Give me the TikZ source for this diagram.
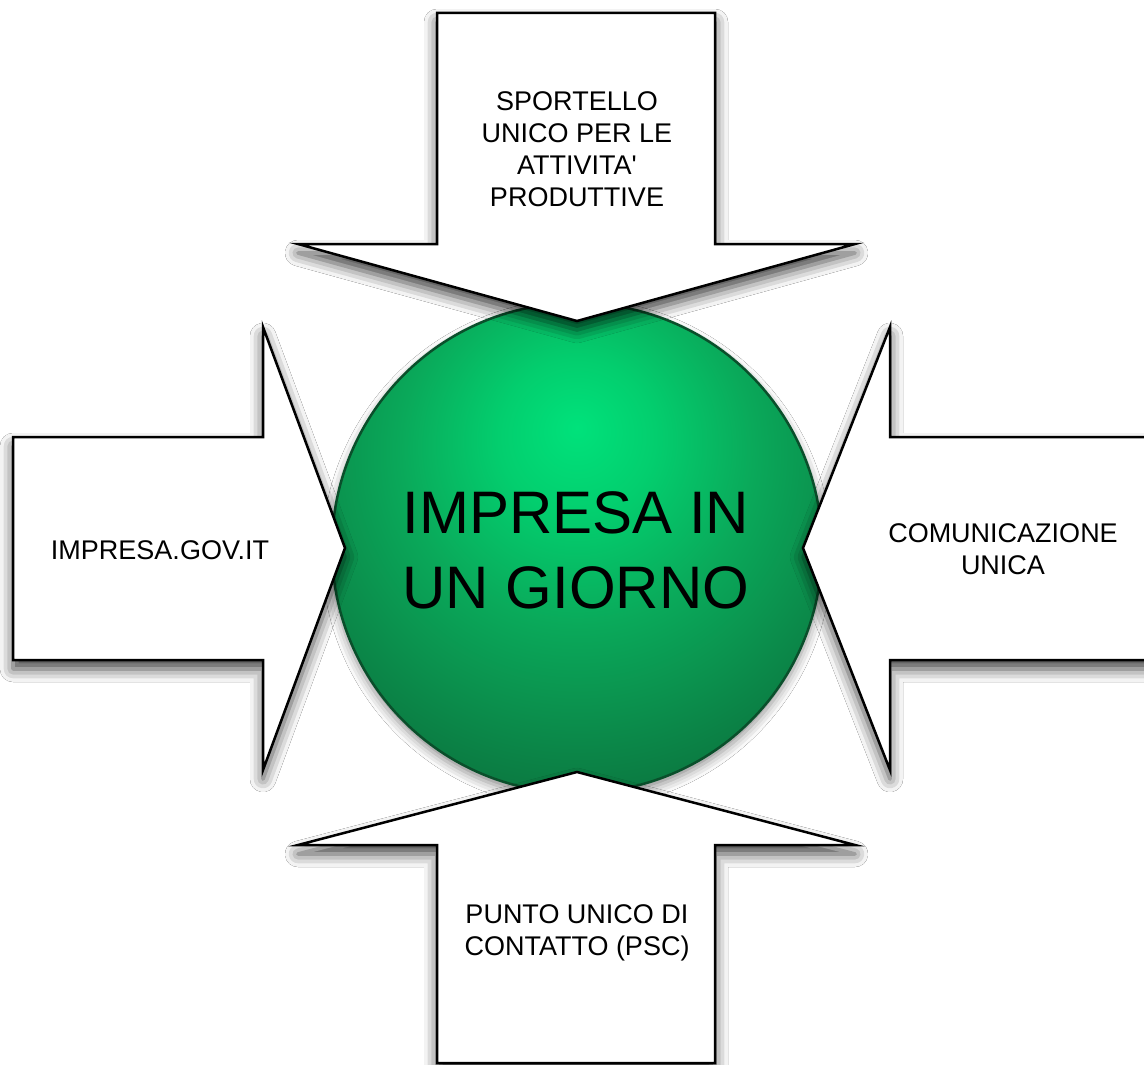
\documentclass[tikz,border=0pt]{standalone}
\usepackage{fontspec}
\setmainfont{Liberation Sans}[Ligatures=TeXOff]
\usetikzlibrary{shadows.blur}
\definecolor{gA}{HTML}{00E27B}
\definecolor{gA2}{HTML}{03CE6E}
\definecolor{gB}{HTML}{0AA95A}
\definecolor{gB2}{HTML}{0B8A4A}
\definecolor{gC}{HTML}{0A6C3A}
\definecolor{gEdge}{HTML}{0A4F2B}
\pgfdeclareradialshading{greenball}{\pgfpoint{0bp}{12.3bp}}{color(0bp)=(gA); color(8bp)=(gA2); color(18bp)=(gB); color(28bp)=(gB2); color(38bp)=(gC); color(100bp)=(gC)}
\tikzset{
  arrowshape/.style={fill=white, draw=black, line width=2.5pt, line join=miter,
    blur shadow={shadow xshift=0pt, shadow yshift=-9pt, shadow blur radius=13pt, shadow opacity=75}},
  ball/.style={circle, minimum size=490pt, inner sep=0pt, shading=greenball, draw=gEdge, line width=2.5pt,
    blur shadow={shadow xshift=0pt, shadow yshift=-6pt, shadow blur radius=10pt, shadow opacity=45}},
  lbl/.style={font=\fontsize{27}{32}\selectfont, align=center, inner sep=0pt, text=black},
  biglbl/.style={font=\fontsize{60}{75}\selectfont, align=center, inner sep=0pt, text=black}
}
\begin{document}
\begin{tikzpicture}[x=1pt,y=-1pt]
\useasboundingbox (0,0) rectangle (1144,1065);
\clip (0,0) rectangle (1144,1065);
\fill[white] (0,0) rectangle (1144,1065);
% central circle
\node[ball] (ball) at (577,548) {};
% top arrow
\path[arrowshape] (437,13) -- (715,13) -- (715,244) -- (855,244) -- (577,321) -- (298,244) -- (437,244) -- cycle;
% bottom arrow
\path[arrowshape] (577,772) -- (855,845) -- (715,845) -- (715,1063) -- (437,1063) -- (437,845) -- (298,845) -- cycle;
% left arrow
\path[arrowshape] (13,437) -- (263,437) -- (263,327) -- (345,548) -- (263,770) -- (263,660) -- (13,660) -- cycle;
% right arrow
\path[arrowshape] (1170,437) -- (890,437) -- (890,327) -- (803,548) -- (890,770) -- (890,660) -- (1170,660) -- cycle;
% labels
\node[biglbl] (center) at (576,550) {IMPRESA IN\\UN GIORNO};
\node[lbl] (top) at (577,149) {SPORTELLO\\UNICO PER LE\\ATTIVITA'\\PRODUTTIVE};
\node[lbl] (left) at (160,550) {IMPRESA.GOV.IT};
\node[lbl] (right) at (1003,549) {COMUNICAZIONE\\UNICA};
\node[lbl] (bottom) at (577,933) {PUNTO UNICO DI\\CONTATTO (PSC)};
\end{tikzpicture}
\end{document}
